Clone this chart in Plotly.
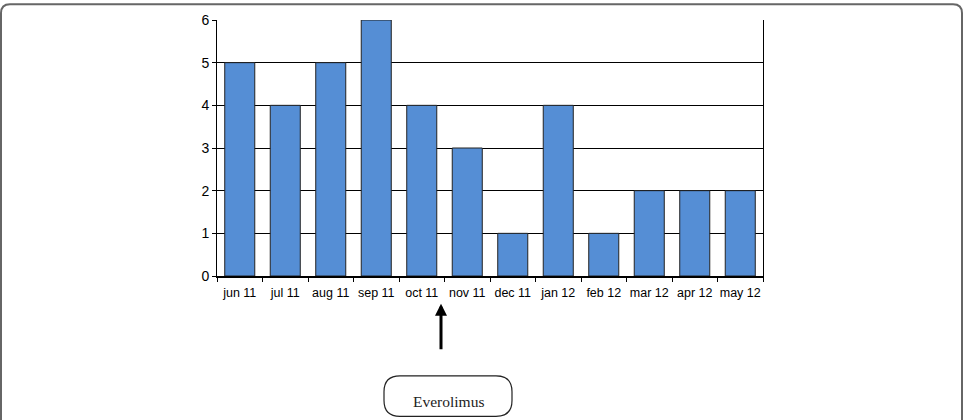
import plotly.graph_objects as go

months = ["jun 11", "jul 11", "aug 11", "sep 11", "oct 11", "nov 11",
          "dec 11", "jan 12", "feb 12", "mar 12", "apr 12", "may 12"]
counts = [5, 4, 5, 6, 4, 3, 1, 4, 1, 2, 2, 2]
y_ticks = [0, 1, 2, 3, 4, 5, 6]

W, H = 965, 420
L, R, T, B = 217, 763, 17, 276


def px(x):
    return (x - L) / (R - L)


def py(y):
    return (B - y) / (B - T)


def rounded_rect(x0, y0, x1, y1, r):
    pts = [
        ("M", x0 + r, y0), ("L", x1 - r, y0), ("Q", x1, y0, x1, y0 + r),
        ("L", x1, y1 - r), ("Q", x1, y1, x1 - r, y1), ("L", x0 + r, y1),
        ("Q", x0, y1, x0, y1 - r), ("L", x0, y0 + r), ("Q", x0, y0, x0 + r, y0),
    ]
    s = ""
    for p in pts:
        cmd = p[0]
        coords = p[1:]
        parts = []
        for i in range(0, len(coords), 2):
            parts.append(f"{px(coords[i]):.5f},{py(coords[i+1]):.5f}")
        s += cmd + " " + " ".join(parts) + " "
    return s + "Z"


fig = go.Figure(go.Bar(
    x=months, y=counts,
    marker=dict(color="#558ED5", line=dict(color="#222222", width=1)),
    width=0.66,
))

fig.update_layout(
    width=W, height=H,
    margin=dict(l=L, r=W - R, t=T, b=H - B),
    paper_bgcolor="white", plot_bgcolor="white",
    showlegend=False,
    font=dict(family="Liberation Sans, Arial, sans-serif", color="black"),
    xaxis=dict(
        type="category", tickson="boundaries", ticks="outside", ticklen=4,
        tickcolor="black", showline=True, linecolor="black", linewidth=2,
        showgrid=False, tickfont=dict(size=12.5), tickangle=0,
        ticklabelstandoff=4,
    ),
    yaxis=dict(
        range=[0, 6], tickvals=y_ticks, ticks="outside", ticklen=4,
        tickcolor="black", showline=True, linecolor="black", linewidth=1,
        mirror=True, showgrid=True, gridcolor="black", gridwidth=1,
        tickfont=dict(size=14), zeroline=False,
    ),
    shapes=[
        dict(type="path", xref="paper", yref="paper",
             path=rounded_rect(1, 1, 962, 440, 9),
             line=dict(color="#666666", width=2), layer="below"),
        dict(type="path", xref="paper", yref="paper",
             path=rounded_rect(384, 377, 512, 418, 16),
             line=dict(color="#222222", width=1.2)),
    ],
    annotations=[
        dict(xref="paper", yref="paper", x=px(441), y=py(304),
             ax=0, ay=47, axref="pixel", ayref="pixel",
             showarrow=True, arrowhead=2, arrowsize=0.8, arrowwidth=3,
             arrowcolor="black", text=""),
        dict(xref="paper", yref="paper", x=px(448), y=py(403),
             xanchor="center", yanchor="middle",
             text="Everolimus", showarrow=False,
             font=dict(family="Liberation Serif, Times New Roman, serif",
                       size=15.5, color="#222222")),
    ],
)

fig.write_html("out.html")
